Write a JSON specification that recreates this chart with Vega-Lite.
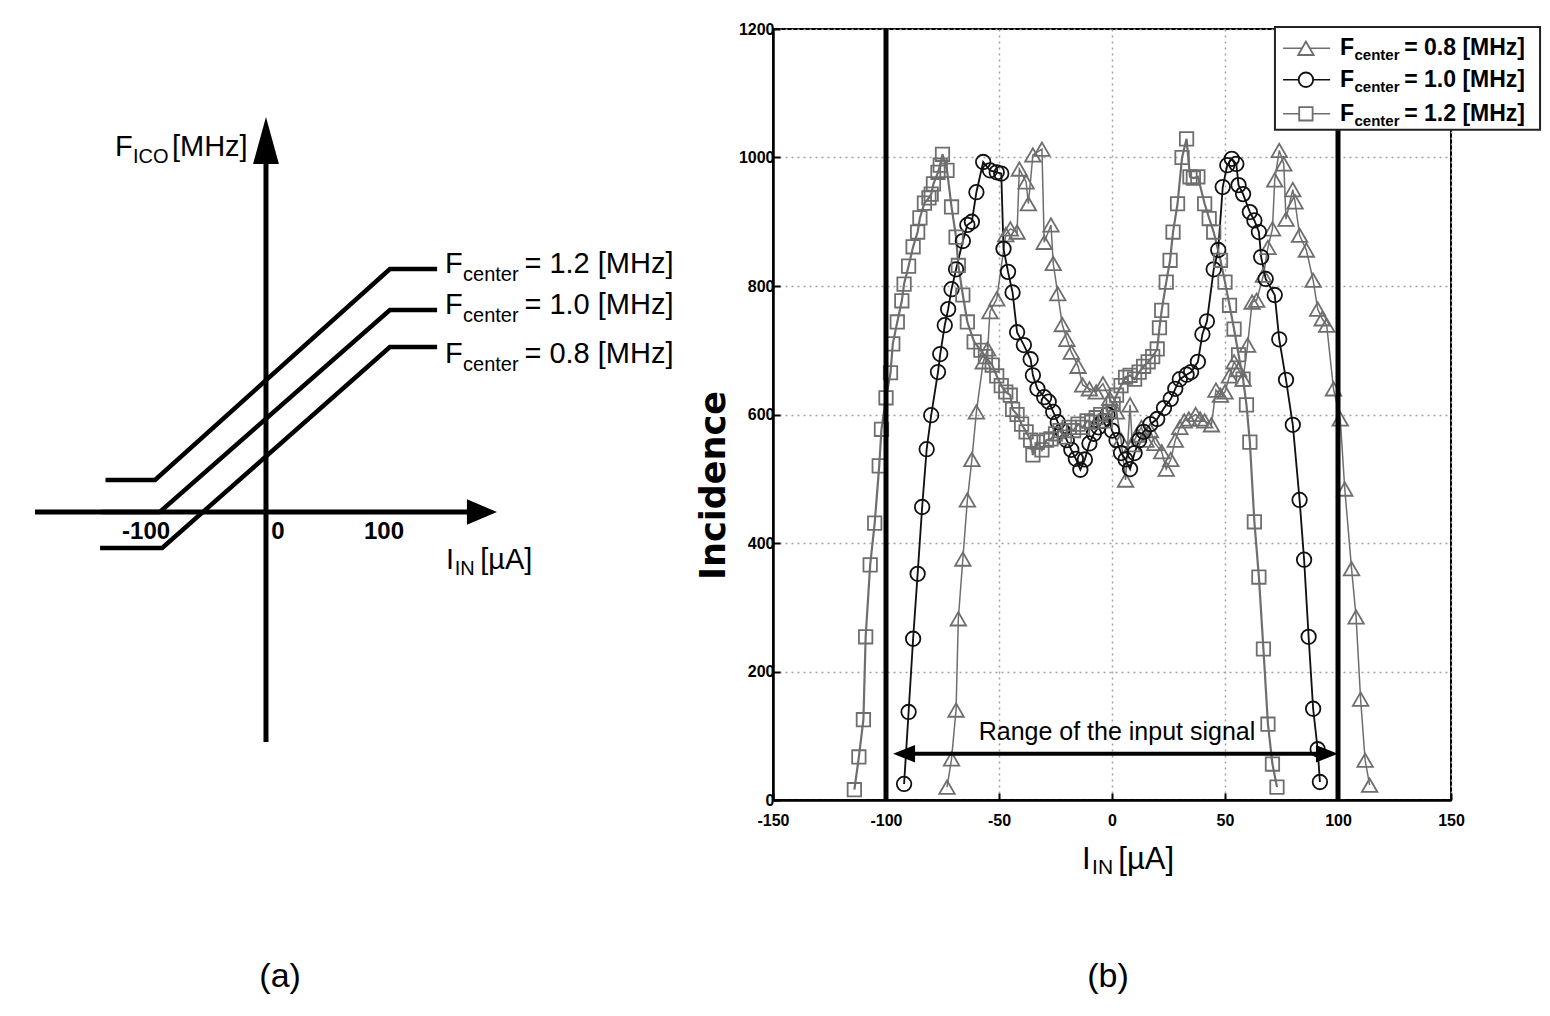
{
  "$schema": "https://vega.github.io/schema/vega-lite/v6.json",
  "background": "white",
  "padding": {"left": 0, "top": 20, "right": 10, "bottom": 0},
  "spacing": 73,
  "bounds": "flush",
  "config": {"font": "Liberation Sans"},
  "datasets": {
    "curvesA": [
      {"curve": "1.2", "ord": 1, "x": -136, "y": 32},
      {"curve": "1.2", "ord": 2, "x": -94, "y": 32},
      {"curve": "1.2", "ord": 3, "x": 105, "y": 243},
      {"curve": "1.2", "ord": 4, "x": 145, "y": 243},
      {"curve": "1.0", "ord": 1, "x": -140, "y": 0},
      {"curve": "1.0", "ord": 2, "x": -90, "y": 0},
      {"curve": "1.0", "ord": 3, "x": 105, "y": 202},
      {"curve": "1.0", "ord": 4, "x": 145, "y": 202},
      {"curve": "0.8", "ord": 1, "x": -140.6, "y": -36},
      {"curve": "0.8", "ord": 2, "x": -88, "y": -36},
      {"curve": "0.8", "ord": 3, "x": 105, "y": 165},
      {"curve": "0.8", "ord": 4, "x": 145, "y": 165}
    ],
    "axesA": [
      {"x": -195.7, "x2": 172.8, "y": 0, "y2": 0},
      {"x": 0, "x2": 0, "y": -230, "y2": 350}
    ],
    "arrowUpA": [{"x": 0, "y": 371.5}],
    "arrowRightA": [{"x": 183, "y": 0}],
    "textA": [
      {"role": "main", "x": -128, "y": 365, "t": "F"},
      {"role": "sub", "x": -112.7, "y": 355, "t": "ICO"},
      {"role": "main", "x": -79.7, "y": 365, "t": "[MHz]"},
      {"role": "main", "x": 151.7, "y": 248, "t": "F"},
      {"role": "sub", "x": 167, "y": 237, "t": "center"},
      {"role": "main", "x": 219, "y": 248, "t": "= 1.2 [MHz]"},
      {"role": "main", "x": 151.7, "y": 207, "t": "F"},
      {"role": "sub", "x": 167, "y": 196, "t": "center"},
      {"role": "main", "x": 219, "y": 207, "t": "= 1.0 [MHz]"},
      {"role": "main", "x": 151.7, "y": 158, "t": "F"},
      {"role": "sub", "x": 167, "y": 147, "t": "center"},
      {"role": "main", "x": 219, "y": 158, "t": "= 0.8 [MHz]"},
      {"role": "main", "x": 152.5, "y": -48, "t": "I"},
      {"role": "sub", "x": 160, "y": -57, "t": "IN"},
      {"role": "main", "x": 181.5, "y": -48, "t": "[µA]"}
    ],
    "ticksA": [
      {"x": -101.6, "y": -20, "t": "-100"},
      {"x": 10.2, "y": -20, "t": "0"},
      {"x": 100, "y": -20, "t": "100"}
    ],
    "panelA": [{"x": 12, "y": -465, "t": "(a)"}],
    "hist": [
      {"s": "0.8", "x": -73, "v": 20}, {"s": "0.8", "x": -71, "v": 64}, {"s": "0.8", "x": -69, "v": 140}, {"s": "0.8", "x": -68, "v": 282},
      {"s": "0.8", "x": -66, "v": 375}, {"s": "0.8", "x": -64, "v": 467}, {"s": "0.8", "x": -62, "v": 530}, {"s": "0.8", "x": -60, "v": 604},
      {"s": "0.8", "x": -57, "v": 682}, {"s": "0.8", "x": -55, "v": 702}, {"s": "0.8", "x": -54, "v": 760}, {"s": "0.8", "x": -51, "v": 780},
      {"s": "0.8", "x": -47, "v": 880}, {"s": "0.8", "x": -45, "v": 889}, {"s": "0.8", "x": -42, "v": 884}, {"s": "0.8", "x": -41, "v": 982},
      {"s": "0.8", "x": -38, "v": 962}, {"s": "0.8", "x": -37, "v": 928}, {"s": "0.8", "x": -35, "v": 1004}, {"s": "0.8", "x": -31, "v": 1013},
      {"s": "0.8", "x": -30, "v": 868}, {"s": "0.8", "x": -27, "v": 895}, {"s": "0.8", "x": -26, "v": 835}, {"s": "0.8", "x": -24, "v": 788},
      {"s": "0.8", "x": -22, "v": 740}, {"s": "0.8", "x": -20, "v": 717}, {"s": "0.8", "x": -18, "v": 697}, {"s": "0.8", "x": -15, "v": 675},
      {"s": "0.8", "x": -13, "v": 646}, {"s": "0.8", "x": -10, "v": 640}, {"s": "0.8", "x": -7, "v": 635}, {"s": "0.8", "x": -4, "v": 648},
      {"s": "0.8", "x": -1, "v": 625}, {"s": "0.8", "x": 2, "v": 604}, {"s": "0.8", "x": 4, "v": 560}, {"s": "0.8", "x": 6, "v": 498},
      {"s": "0.8", "x": 8, "v": 615}, {"s": "0.8", "x": 9, "v": 553}, {"s": "0.8", "x": 11, "v": 568}, {"s": "0.8", "x": 13, "v": 580},
      {"s": "0.8", "x": 15, "v": 560}, {"s": "0.8", "x": 17, "v": 575}, {"s": "0.8", "x": 19, "v": 555}, {"s": "0.8", "x": 22, "v": 542},
      {"s": "0.8", "x": 24, "v": 515}, {"s": "0.8", "x": 26, "v": 530}, {"s": "0.8", "x": 28, "v": 560}, {"s": "0.8", "x": 30, "v": 580},
      {"s": "0.8", "x": 32, "v": 590}, {"s": "0.8", "x": 34, "v": 593}, {"s": "0.8", "x": 37, "v": 600}, {"s": "0.8", "x": 39, "v": 593},
      {"s": "0.8", "x": 41, "v": 590}, {"s": "0.8", "x": 44, "v": 584}, {"s": "0.8", "x": 46, "v": 638}, {"s": "0.8", "x": 48, "v": 630},
      {"s": "0.8", "x": 50, "v": 635}, {"s": "0.8", "x": 52, "v": 660}, {"s": "0.8", "x": 54, "v": 682}, {"s": "0.8", "x": 56, "v": 670},
      {"s": "0.8", "x": 58, "v": 655}, {"s": "0.8", "x": 60, "v": 708}, {"s": "0.8", "x": 62, "v": 775}, {"s": "0.8", "x": 64, "v": 778},
      {"s": "0.8", "x": 67, "v": 817}, {"s": "0.8", "x": 69, "v": 860}, {"s": "0.8", "x": 71, "v": 889}, {"s": "0.8", "x": 72, "v": 965},
      {"s": "0.8", "x": 74, "v": 1011}, {"s": "0.8", "x": 76, "v": 990}, {"s": "0.8", "x": 77, "v": 904}, {"s": "0.8", "x": 80, "v": 950},
      {"s": "0.8", "x": 81, "v": 931}, {"s": "0.8", "x": 83, "v": 879}, {"s": "0.8", "x": 86, "v": 856}, {"s": "0.8", "x": 89, "v": 809},
      {"s": "0.8", "x": 91, "v": 764}, {"s": "0.8", "x": 93, "v": 749}, {"s": "0.8", "x": 95, "v": 739}, {"s": "0.8", "x": 98, "v": 640},
      {"s": "0.8", "x": 101, "v": 593}, {"s": "0.8", "x": 103, "v": 484}, {"s": "0.8", "x": 106, "v": 360}, {"s": "0.8", "x": 108, "v": 285},
      {"s": "0.8", "x": 110, "v": 157}, {"s": "0.8", "x": 112, "v": 62}, {"s": "0.8", "x": 114, "v": 23},

      {"s": "1.0", "x": -92, "v": 25}, {"s": "1.0", "x": -90, "v": 137}, {"s": "1.0", "x": -88, "v": 251}, {"s": "1.0", "x": -86, "v": 352},
      {"s": "1.0", "x": -84, "v": 456}, {"s": "1.0", "x": -82, "v": 546}, {"s": "1.0", "x": -80, "v": 599}, {"s": "1.0", "x": -77, "v": 666},
      {"s": "1.0", "x": -76, "v": 694}, {"s": "1.0", "x": -74, "v": 739}, {"s": "1.0", "x": -72.5, "v": 764}, {"s": "1.0", "x": -71, "v": 795},
      {"s": "1.0", "x": -69, "v": 826}, {"s": "1.0", "x": -66, "v": 870}, {"s": "1.0", "x": -64, "v": 895}, {"s": "1.0", "x": -62, "v": 900},
      {"s": "1.0", "x": -60, "v": 946}, {"s": "1.0", "x": -57, "v": 993}, {"s": "1.0", "x": -54, "v": 980}, {"s": "1.0", "x": -51, "v": 977},
      {"s": "1.0", "x": -49, "v": 975}, {"s": "1.0", "x": -48, "v": 858}, {"s": "1.0", "x": -46, "v": 822}, {"s": "1.0", "x": -44, "v": 790},
      {"s": "1.0", "x": -42, "v": 728}, {"s": "1.0", "x": -39, "v": 708}, {"s": "1.0", "x": -36, "v": 686}, {"s": "1.0", "x": -35, "v": 661},
      {"s": "1.0", "x": -33, "v": 640}, {"s": "1.0", "x": -30, "v": 627}, {"s": "1.0", "x": -28, "v": 620}, {"s": "1.0", "x": -26, "v": 604},
      {"s": "1.0", "x": -24, "v": 588}, {"s": "1.0", "x": -22, "v": 575}, {"s": "1.0", "x": -20, "v": 560}, {"s": "1.0", "x": -18, "v": 545},
      {"s": "1.0", "x": -16, "v": 531}, {"s": "1.0", "x": -14, "v": 514}, {"s": "1.0", "x": -12, "v": 530}, {"s": "1.0", "x": -10, "v": 555},
      {"s": "1.0", "x": -8, "v": 570}, {"s": "1.0", "x": -6, "v": 580}, {"s": "1.0", "x": -4, "v": 590}, {"s": "1.0", "x": -2, "v": 600},
      {"s": "1.0", "x": 0, "v": 575}, {"s": "1.0", "x": 2, "v": 560}, {"s": "1.0", "x": 4, "v": 540}, {"s": "1.0", "x": 6, "v": 530},
      {"s": "1.0", "x": 8, "v": 515}, {"s": "1.0", "x": 10, "v": 540}, {"s": "1.0", "x": 12, "v": 560}, {"s": "1.0", "x": 14, "v": 573},
      {"s": "1.0", "x": 17, "v": 585}, {"s": "1.0", "x": 20, "v": 593}, {"s": "1.0", "x": 23, "v": 610}, {"s": "1.0", "x": 26, "v": 624},
      {"s": "1.0", "x": 28, "v": 640}, {"s": "1.0", "x": 30, "v": 655}, {"s": "1.0", "x": 33, "v": 662}, {"s": "1.0", "x": 35, "v": 666},
      {"s": "1.0", "x": 38, "v": 682}, {"s": "1.0", "x": 40, "v": 725}, {"s": "1.0", "x": 42, "v": 745}, {"s": "1.0", "x": 45, "v": 826},
      {"s": "1.0", "x": 47, "v": 856}, {"s": "1.0", "x": 49, "v": 954}, {"s": "1.0", "x": 51, "v": 988}, {"s": "1.0", "x": 53, "v": 998},
      {"s": "1.0", "x": 55, "v": 990}, {"s": "1.0", "x": 56, "v": 957}, {"s": "1.0", "x": 58, "v": 943}, {"s": "1.0", "x": 61, "v": 915},
      {"s": "1.0", "x": 63, "v": 902}, {"s": "1.0", "x": 65, "v": 884}, {"s": "1.0", "x": 66, "v": 845}, {"s": "1.0", "x": 68, "v": 811},
      {"s": "1.0", "x": 72, "v": 786}, {"s": "1.0", "x": 74, "v": 717}, {"s": "1.0", "x": 77, "v": 654}, {"s": "1.0", "x": 80, "v": 584},
      {"s": "1.0", "x": 83, "v": 467}, {"s": "1.0", "x": 85, "v": 374}, {"s": "1.0", "x": 87, "v": 254}, {"s": "1.0", "x": 89, "v": 142},
      {"s": "1.0", "x": 91, "v": 79}, {"s": "1.0", "x": 92, "v": 28},

      {"s": "1.2", "x": -114, "v": 16}, {"s": "1.2", "x": -112, "v": 67}, {"s": "1.2", "x": -110, "v": 125}, {"s": "1.2", "x": -109, "v": 254},
      {"s": "1.2", "x": -107, "v": 366}, {"s": "1.2", "x": -105, "v": 431}, {"s": "1.2", "x": -103, "v": 520}, {"s": "1.2", "x": -102, "v": 577},
      {"s": "1.2", "x": -100, "v": 626}, {"s": "1.2", "x": -98, "v": 665}, {"s": "1.2", "x": -97, "v": 710}, {"s": "1.2", "x": -95, "v": 744},
      {"s": "1.2", "x": -93, "v": 777}, {"s": "1.2", "x": -92, "v": 803}, {"s": "1.2", "x": -90, "v": 831}, {"s": "1.2", "x": -88, "v": 861},
      {"s": "1.2", "x": -86, "v": 884}, {"s": "1.2", "x": -85, "v": 906}, {"s": "1.2", "x": -83, "v": 929}, {"s": "1.2", "x": -81, "v": 937},
      {"s": "1.2", "x": -80, "v": 943}, {"s": "1.2", "x": -79, "v": 959}, {"s": "1.2", "x": -77, "v": 977}, {"s": "1.2", "x": -76, "v": 988},
      {"s": "1.2", "x": -75, "v": 1005}, {"s": "1.2", "x": -73, "v": 980}, {"s": "1.2", "x": -71, "v": 923}, {"s": "1.2", "x": -69, "v": 876},
      {"s": "1.2", "x": -68, "v": 832}, {"s": "1.2", "x": -66, "v": 786}, {"s": "1.2", "x": -64, "v": 744}, {"s": "1.2", "x": -61, "v": 713},
      {"s": "1.2", "x": -58, "v": 700}, {"s": "1.2", "x": -56, "v": 690}, {"s": "1.2", "x": -53, "v": 677}, {"s": "1.2", "x": -51, "v": 660},
      {"s": "1.2", "x": -49, "v": 645}, {"s": "1.2", "x": -47, "v": 635}, {"s": "1.2", "x": -45, "v": 630}, {"s": "1.2", "x": -44, "v": 608},
      {"s": "1.2", "x": -42, "v": 600}, {"s": "1.2", "x": -40, "v": 585}, {"s": "1.2", "x": -38, "v": 573}, {"s": "1.2", "x": -36, "v": 560},
      {"s": "1.2", "x": -35, "v": 537}, {"s": "1.2", "x": -33, "v": 557}, {"s": "1.2", "x": -31, "v": 545}, {"s": "1.2", "x": -29, "v": 560},
      {"s": "1.2", "x": -27, "v": 562}, {"s": "1.2", "x": -25, "v": 570}, {"s": "1.2", "x": -23, "v": 575}, {"s": "1.2", "x": -21, "v": 565},
      {"s": "1.2", "x": -19, "v": 580}, {"s": "1.2", "x": -17, "v": 575}, {"s": "1.2", "x": -15, "v": 585}, {"s": "1.2", "x": -13, "v": 580},
      {"s": "1.2", "x": -11, "v": 590}, {"s": "1.2", "x": -9, "v": 588}, {"s": "1.2", "x": -7, "v": 595}, {"s": "1.2", "x": -5, "v": 600},
      {"s": "1.2", "x": -3, "v": 590}, {"s": "1.2", "x": -1, "v": 605}, {"s": "1.2", "x": 0.5, "v": 616}, {"s": "1.2", "x": 2, "v": 630},
      {"s": "1.2", "x": 4, "v": 645}, {"s": "1.2", "x": 6, "v": 658}, {"s": "1.2", "x": 8, "v": 661}, {"s": "1.2", "x": 10, "v": 655},
      {"s": "1.2", "x": 12, "v": 666}, {"s": "1.2", "x": 14, "v": 675}, {"s": "1.2", "x": 16, "v": 682}, {"s": "1.2", "x": 18, "v": 690},
      {"s": "1.2", "x": 20, "v": 702}, {"s": "1.2", "x": 21, "v": 735}, {"s": "1.2", "x": 22, "v": 762}, {"s": "1.2", "x": 24, "v": 806},
      {"s": "1.2", "x": 25.7, "v": 840}, {"s": "1.2", "x": 27, "v": 884}, {"s": "1.2", "x": 29, "v": 928}, {"s": "1.2", "x": 31, "v": 1000},
      {"s": "1.2", "x": 33, "v": 1029}, {"s": "1.2", "x": 34.5, "v": 970}, {"s": "1.2", "x": 36, "v": 968}, {"s": "1.2", "x": 38, "v": 970},
      {"s": "1.2", "x": 41, "v": 928}, {"s": "1.2", "x": 43, "v": 905}, {"s": "1.2", "x": 45, "v": 884}, {"s": "1.2", "x": 48, "v": 840},
      {"s": "1.2", "x": 50, "v": 806}, {"s": "1.2", "x": 52, "v": 770}, {"s": "1.2", "x": 54, "v": 733}, {"s": "1.2", "x": 56, "v": 693},
      {"s": "1.2", "x": 58, "v": 655}, {"s": "1.2", "x": 59.5, "v": 615}, {"s": "1.2", "x": 61, "v": 557}, {"s": "1.2", "x": 63, "v": 433},
      {"s": "1.2", "x": 65, "v": 347}, {"s": "1.2", "x": 67, "v": 235}, {"s": "1.2", "x": 69, "v": 118}, {"s": "1.2", "x": 71, "v": 56},
      {"s": "1.2", "x": 73, "v": 20}
    ],
    "barsB": [{"x": -100, "v": 0, "v2": 1200}, {"x": 100, "v": 0, "v2": 1200}],
    "arrowB": [{"x": -92, "x2": 95.1, "v": 72}],
    "headLeftB": [{"x": -92, "v": 72}],
    "headRightB": [{"x": 95.1, "v": 72}],
    "rangeText": [{"x": 2.2, "v": 106, "t": "Range of the input signal"}],
    "legendBox": [{"x": 72.1, "x2": 189.4, "v": 1043, "v2": 1203}],
    "legendRows": [
      {"s": "0.8", "x": 85.8, "xa": 75.7, "xb": 96.5, "v": 1170},
      {"s": "1.0", "x": 85.8, "xa": 75.7, "xb": 96.5, "v": 1121},
      {"s": "1.2", "x": 85.8, "xa": 75.7, "xb": 96.5, "v": 1068}
    ],
    "legendText": [
      {"role": "main", "x": 100.9, "v": 1170, "t": "F"},
      {"role": "sub", "x": 107.3, "v": 1159, "t": "center"},
      {"role": "main", "x": 129.3, "v": 1170, "t": "= 0.8 [MHz]"},
      {"role": "main", "x": 100.9, "v": 1121, "t": "F"},
      {"role": "sub", "x": 107.3, "v": 1110, "t": "center"},
      {"role": "main", "x": 129.3, "v": 1121, "t": "= 1.0 [MHz]"},
      {"role": "main", "x": 100.9, "v": 1068, "t": "F"},
      {"role": "sub", "x": 107.3, "v": 1057, "t": "center"},
      {"role": "main", "x": 129.3, "v": 1068, "t": "= 1.2 [MHz]"}
    ],
    "xTitleB": [
      {"role": "main", "x": -13.3, "v": -93, "t": "I"},
      {"role": "sub", "x": -8.8, "v": -106, "t": "IN"},
      {"role": "main", "x": 2.8, "v": -93, "t": "[µA]"}
    ],
    "panelB": [{"x": -1.8, "v": -275, "t": "(b)"}]
  },
  "hconcat": [
    {
      "width": 700,
      "height": 960,
      "view": {"stroke": null},
      "layer": [
        {
          "data": {"name": "curvesA"},
          "mark": {"type": "line", "color": "black", "strokeWidth": 4.5, "strokeCap": "butt"},
          "encoding": {
            "x": {"field": "x", "type": "quantitative", "scale": {"domain": [-225.4, 367.8], "nice": false, "zero": false}, "axis": null},
            "y": {"field": "y", "type": "quantitative", "scale": {"domain": [-477, 483], "nice": false, "zero": false}, "axis": null},
            "detail": {"field": "curve"},
            "order": {"field": "ord", "type": "quantitative"}
          }
        },
        {
          "data": {"name": "axesA"},
          "mark": {"type": "rule", "color": "black", "strokeWidth": 5},
          "encoding": {
            "x": {"field": "x", "type": "quantitative"},
            "x2": {"field": "x2"},
            "y": {"field": "y", "type": "quantitative"},
            "y2": {"field": "y2"}
          }
        },
        {
          "data": {"name": "arrowUpA"},
          "mark": {"type": "point", "shape": "M0,-1L0.55,1L-0.55,1Z", "filled": true, "color": "black", "opacity": 1, "size": 2209},
          "encoding": {
            "x": {"field": "x", "type": "quantitative"},
            "y": {"field": "y", "type": "quantitative"}
          }
        },
        {
          "data": {"name": "arrowRightA"},
          "mark": {"type": "point", "shape": "M1,0L-1,0.85L-1,-0.85Z", "filled": true, "color": "black", "opacity": 1, "size": 900},
          "encoding": {
            "x": {"field": "x", "type": "quantitative"},
            "y": {"field": "y", "type": "quantitative"}
          }
        },
        {
          "data": {"name": "textA"},
          "transform": [{"filter": "datum.role === 'main'"}],
          "mark": {"type": "text", "align": "left", "baseline": "middle", "fontSize": 29, "color": "black", "font": "Liberation Sans"},
          "encoding": {
            "x": {"field": "x", "type": "quantitative"},
            "y": {"field": "y", "type": "quantitative"},
            "text": {"field": "t"}
          }
        },
        {
          "data": {"name": "textA"},
          "transform": [{"filter": "datum.role === 'sub'"}],
          "mark": {"type": "text", "align": "left", "baseline": "middle", "fontSize": 20, "color": "black", "font": "Liberation Sans"},
          "encoding": {
            "x": {"field": "x", "type": "quantitative"},
            "y": {"field": "y", "type": "quantitative"},
            "text": {"field": "t"}
          }
        },
        {
          "data": {"name": "ticksA"},
          "mark": {"type": "text", "align": "center", "baseline": "middle", "fontSize": 24, "fontWeight": "bold", "color": "black", "font": "Liberation Sans"},
          "encoding": {
            "x": {"field": "x", "type": "quantitative"},
            "y": {"field": "y", "type": "quantitative"},
            "text": {"field": "t"}
          }
        },
        {
          "data": {"name": "panelA"},
          "mark": {"type": "text", "align": "center", "baseline": "middle", "fontSize": 34, "color": "black", "font": "Liberation Sans"},
          "encoding": {
            "x": {"field": "x", "type": "quantitative"},
            "y": {"field": "y", "type": "quantitative"},
            "text": {"field": "t"}
          }
        }
      ]
    },
    {
      "width": 678,
      "height": 771,
      "view": {"stroke": "black", "strokeWidth": 2},
      "layer": [
        {
          "data": {"name": "hist"},
          "mark": {"type": "line"},
          "encoding": {
            "x": {"field": "x", "type": "quantitative",
              "scale": {"domain": [-150, 150], "nice": false, "zero": false},
              "axis": {"values": [-150, -100, -50, 0, 50, 100, 150], "labelExpr": "'' + datum.value", "title": null, "grid": true, "gridDash": [2, 4], "gridColor": "#a0a0a0", "gridWidth": 1.5, "gridOpacity": 1,
                "domainColor": "black", "domainWidth": 2.5, "tickColor": "black", "tickSize": -7, "tickWidth": 2, "labelFont": "Liberation Sans", "labelFontWeight": "bold", "labelFontSize": 16, "labelColor": "black", "labelPadding": 19, "labelFlush": false}},
            "y": {"field": "v", "type": "quantitative",
              "scale": {"domain": [0, 1200], "nice": false, "zero": false},
              "axis": {"values": [0, 200, 400, 600, 800, 1000, 1200], "labelExpr": "'' + datum.value", "title": "Incidence", "titleFont": "DejaVu Sans", "titleFontSize": 35, "titleFontWeight": "bold", "titleColor": "black", "titleX": -60, "titleY": 456, "titleAlign": "center", "titleBaseline": "middle",
                "grid": true, "gridDash": [2, 4], "gridColor": "#a0a0a0", "gridWidth": 1.5, "gridOpacity": 1,
                "domainColor": "black", "domainWidth": 2.5, "tickColor": "black", "tickSize": -7, "tickWidth": 2, "labelFont": "Liberation Sans", "labelFontWeight": "bold", "labelFontSize": 16, "labelColor": "black", "labelPadding": 6, "labelFlush": false}},
            "color": {"field": "s", "type": "nominal", "scale": {"domain": ["0.8", "1.0", "1.2"], "range": ["#6e6e6e", "#111111", "#6e6e6e"]}, "legend": null},
            "strokeWidth": {"field": "s", "type": "ordinal", "scale": {"domain": ["0.8", "1.0", "1.2"], "range": [1.5, 2.2, 1.5]}, "legend": null}
          }
        },
        {
          "data": {"name": "hist"},
          "mark": {"type": "point", "filled": false, "opacity": 1, "strokeWidth": 1.8},
          "encoding": {
            "x": {"field": "x", "type": "quantitative"},
            "y": {"field": "v", "type": "quantitative"},
            "color": {"field": "s", "type": "nominal", "legend": null},
            "shape": {"field": "s", "type": "nominal", "scale": {"domain": ["0.8", "1.0", "1.2"], "range": ["triangle-up", "circle", "square"]}, "legend": null},
            "size": {"field": "s", "type": "ordinal", "scale": {"domain": ["0.8", "1.0", "1.2"], "range": [240, 180, 140]}, "legend": null}
          }
        },
        {
          "data": {"name": "barsB"},
          "mark": {"type": "rule", "color": "black", "strokeWidth": 5},
          "encoding": {
            "x": {"field": "x", "type": "quantitative"},
            "y": {"field": "v", "type": "quantitative"},
            "y2": {"field": "v2"}
          }
        },
        {
          "data": {"name": "arrowB"},
          "mark": {"type": "rule", "color": "black", "strokeWidth": 4},
          "encoding": {
            "x": {"field": "x", "type": "quantitative"},
            "x2": {"field": "x2"},
            "y": {"field": "v", "type": "quantitative"}
          }
        },
        {
          "data": {"name": "headLeftB"},
          "mark": {"type": "point", "shape": "M-1,0L1,0.8L1,-0.8Z", "filled": true, "color": "black", "opacity": 1, "size": 484},
          "encoding": {
            "x": {"field": "x", "type": "quantitative"},
            "y": {"field": "v", "type": "quantitative"}
          }
        },
        {
          "data": {"name": "headRightB"},
          "mark": {"type": "point", "shape": "M1,0L-1,0.8L-1,-0.8Z", "filled": true, "color": "black", "opacity": 1, "size": 484},
          "encoding": {
            "x": {"field": "x", "type": "quantitative"},
            "y": {"field": "v", "type": "quantitative"}
          }
        },
        {
          "data": {"name": "rangeText"},
          "mark": {"type": "text", "align": "center", "baseline": "middle", "fontSize": 25, "color": "black", "font": "Liberation Sans"},
          "encoding": {
            "x": {"field": "x", "type": "quantitative"},
            "y": {"field": "v", "type": "quantitative"},
            "text": {"field": "t"}
          }
        },
        {
          "data": {"name": "legendBox"},
          "mark": {"type": "rect", "fill": "white", "stroke": "#222222", "strokeWidth": 2},
          "encoding": {
            "x": {"field": "x", "type": "quantitative"},
            "x2": {"field": "x2"},
            "y": {"field": "v", "type": "quantitative"},
            "y2": {"field": "v2"}
          }
        },
        {
          "data": {"name": "legendRows"},
          "mark": {"type": "rule", "strokeWidth": 1.5},
          "encoding": {
            "x": {"field": "xa", "type": "quantitative"},
            "x2": {"field": "xb"},
            "y": {"field": "v", "type": "quantitative"},
            "color": {"field": "s", "type": "nominal", "legend": null}
          }
        },
        {
          "data": {"name": "legendRows"},
          "mark": {"type": "point", "filled": true, "fill": "white", "opacity": 1, "strokeWidth": 1.8},
          "encoding": {
            "x": {"field": "x", "type": "quantitative"},
            "y": {"field": "v", "type": "quantitative"},
            "stroke": {"field": "s", "type": "nominal", "scale": {"domain": ["0.8", "1.0", "1.2"], "range": ["#6e6e6e", "#111111", "#6e6e6e"]}, "legend": null},
            "shape": {"field": "s", "type": "nominal", "legend": null},
            "size": {"field": "s", "type": "ordinal", "legend": null}
          }
        },
        {
          "data": {"name": "legendText"},
          "transform": [{"filter": "datum.role === 'main'"}],
          "mark": {"type": "text", "align": "left", "baseline": "middle", "fontSize": 23, "fontWeight": "bold", "color": "black", "font": "Liberation Sans"},
          "encoding": {
            "x": {"field": "x", "type": "quantitative"},
            "y": {"field": "v", "type": "quantitative"},
            "text": {"field": "t"}
          }
        },
        {
          "data": {"name": "legendText"},
          "transform": [{"filter": "datum.role === 'sub'"}],
          "mark": {"type": "text", "align": "left", "baseline": "middle", "fontSize": 15, "fontWeight": "bold", "color": "black", "font": "Liberation Sans"},
          "encoding": {
            "x": {"field": "x", "type": "quantitative"},
            "y": {"field": "v", "type": "quantitative"},
            "text": {"field": "t"}
          }
        },
        {
          "data": {"name": "xTitleB"},
          "transform": [{"filter": "datum.role === 'main'"}],
          "mark": {"type": "text", "align": "left", "baseline": "middle", "fontSize": 31, "color": "black", "font": "Liberation Sans"},
          "encoding": {
            "x": {"field": "x", "type": "quantitative"},
            "y": {"field": "v", "type": "quantitative"},
            "text": {"field": "t"}
          }
        },
        {
          "data": {"name": "xTitleB"},
          "transform": [{"filter": "datum.role === 'sub'"}],
          "mark": {"type": "text", "align": "left", "baseline": "middle", "fontSize": 21, "color": "black", "font": "Liberation Sans"},
          "encoding": {
            "x": {"field": "x", "type": "quantitative"},
            "y": {"field": "v", "type": "quantitative"},
            "text": {"field": "t"}
          }
        },
        {
          "data": {"name": "panelB"},
          "mark": {"type": "text", "align": "center", "baseline": "middle", "fontSize": 34, "color": "black", "font": "Liberation Sans"},
          "encoding": {
            "x": {"field": "x", "type": "quantitative"},
            "y": {"field": "v", "type": "quantitative"},
            "text": {"field": "t"}
          }
        }
      ]
    }
  ]
}
